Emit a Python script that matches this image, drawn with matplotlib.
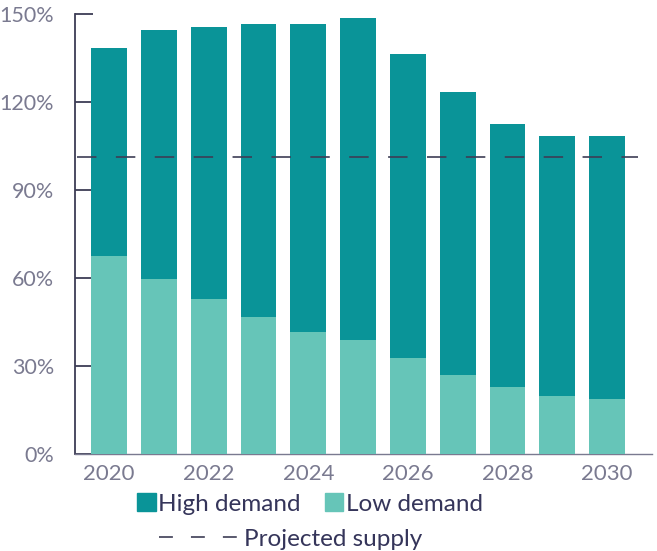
import numpy as np
import matplotlib.pyplot as plt
from matplotlib.lines import Line2D
from matplotlib.patches import Patch

years = np.arange(2020, 2031)
high_demand = [138.5, 144.5, 145.5, 146.5, 146.5, 148.5, 136.5, 123.5, 112.5, 108.5, 108.5]
low_demand = [67.5, 59.7, 52.8, 46.7, 41.6, 38.9, 32.7, 26.9, 22.8, 19.8, 18.8]
supply = 101.3
yticks = [0, 30, 60, 90, 120, 150]

dark = '#0a9498'
light = '#66c5b8'
axis_col = '#3d3d55'
tick_col = '#7a7a90'
text_col = '#35355a'

plt.rcParams['font.family'] = ['Lato', 'DejaVu Sans']
plt.rcParams['lines.scale_dashes'] = False

fig = plt.figure(figsize=(6.57, 5.51), dpi=100)
ax = fig.add_axes([75 / 657, 1 - 454 / 551, 577 / 657, 440 / 551])

x = np.arange(len(years))
ax.bar(x, high_demand, width=0.72, color=dark, zorder=2)
ax.bar(x, low_demand, width=0.72, color=light, zorder=3)
ax.axhline(supply, xmin=0.004, xmax=0.976, color=axis_col, lw=1.2,
           dashes=(14, 14), zorder=4)

ax.set_xlim(-0.683, 10.9)
ax.set_ylim(0, 150)
ax.set_yticks(yticks)
ax.set_yticklabels([f'{v}%' for v in yticks])
ax.set_xticks(x[::2])
ax.set_xticklabels([str(y) for y in years[::2]])

for s in ['top', 'right']:
    ax.spines[s].set_visible(False)
ax.spines['left'].set_color(axis_col)
ax.spines['bottom'].set_color(tick_col)
ax.spines['left'].set_linewidth(1.3)
ax.spines['bottom'].set_linewidth(1.0)
ax.tick_params(axis='y', direction='in', length=13, width=1.3, color=axis_col,
               labelsize=15.5, labelcolor=tick_col, pad=15)
ax.tick_params(axis='x', length=0, labelsize=16, labelcolor=tick_col, pad=7)

h1 = [Patch(color=dark, label='High demand'), Patch(color=light, label='Low demand')]
leg1 = fig.legend(handles=h1, loc='center', bbox_to_anchor=(310 / 657, 1 - 504 / 551),
                  ncol=2, frameon=False, fontsize=17.5, handlelength=0.75, handleheight=0.75,
                  handletextpad=0.1, columnspacing=1.0, labelcolor=text_col)
h2 = [Line2D([0], [0], color=axis_col, lw=1.2, dashes=(10, 13), label='Projected supply')]
leg2 = fig.legend(handles=h2, loc='center', bbox_to_anchor=(291 / 657, 1 - 539 / 551),
                  frameon=False, fontsize=17.5, handlelength=3.25, handletextpad=0.25,
                  labelcolor=text_col)

fig.savefig('out.png', dpi=100)
